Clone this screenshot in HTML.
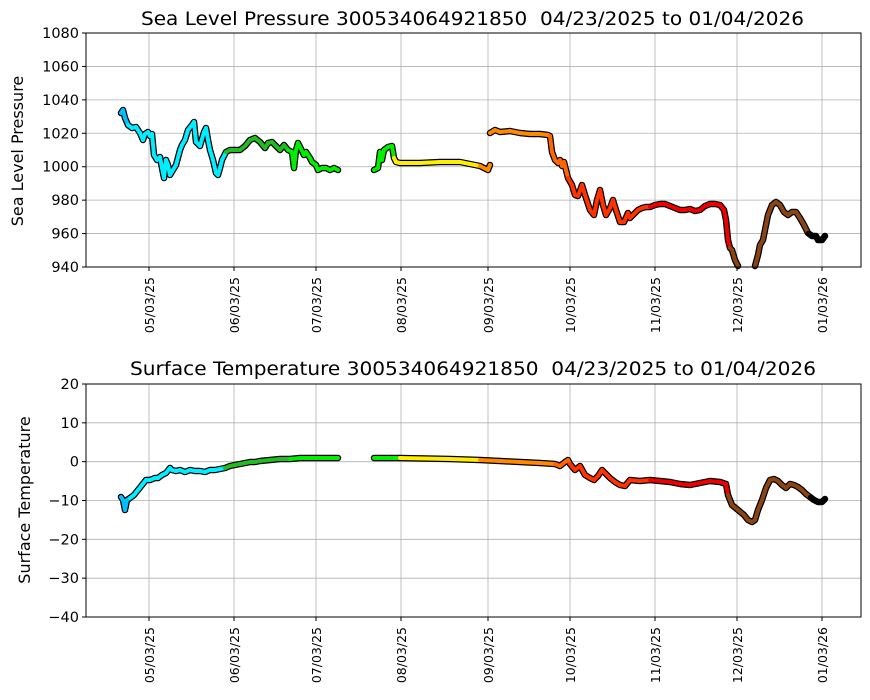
<!DOCTYPE html>
<html><head><meta charset="utf-8"><style>
body{margin:0;background:#fff;}
svg{display:block;font-family:"DejaVu Sans","Liberation Sans",sans-serif;}
</style></head><body>
<svg id="s" width="870" height="700" xmlns="http://www.w3.org/2000/svg">
<rect width="870" height="700" fill="#fff"/>
<g id="grid" stroke="#b0b0b0" stroke-width="0.8"></g>
<g id="data"></g>
<g fill="none" stroke="#000" stroke-width="1">
<rect x="86" y="33" width="775" height="234"/>
<rect x="86" y="384" width="775" height="233"/>
</g>
<g id="ticks" font-size="12"></g>
<text x="141" y="25" font-size="19" textLength="663" lengthAdjust="spacingAndGlyphs" xml:space="preserve">Sea Level Pressure 300534064921850  04/23/2025 to 01/04/2026</text>
<text x="130" y="375" font-size="19" textLength="686" lengthAdjust="spacingAndGlyphs" xml:space="preserve">Surface Temperature 300534064921850  04/23/2025 to 01/04/2026</text>
<text transform="translate(23,151) rotate(-90)" font-size="16" text-anchor="middle">Sea Level Pressure</text>
<text transform="translate(30,500) rotate(-90)" font-size="16" text-anchor="middle">Surface Temperature</text>
</svg>
<script>
const NS="http://www.w3.org/2000/svg";
const g=document.getElementById('grid'),t=document.getElementById('ticks'),d=document.getElementById('data');
function el(p,tag,a,txt){const e=document.createElementNS(NS,tag);for(const k in a)e.setAttribute(k,a[k]);if(txt!==undefined)e.textContent=txt;p.appendChild(e);return e;}
const xs=[149,234,316,401,488,570,655,737,822],xl=["05/03/25","06/03/25","07/03/25","08/03/25","09/03/25","10/03/25","11/03/25","12/03/25","01/03/26"];
[[33,267],[384,617]].forEach(([y0,y1])=>{
 xs.forEach((x,i)=>{el(g,'line',{x1:x,x2:x,y1:y0,y2:y1});el(t,'line',{x1:x,x2:x,y1:y1,y2:y1+4,stroke:'#000'});
  el(t,'text',{transform:`translate(${x+5},${y1+10}) rotate(-90)`,'text-anchor':'end','font-size':'12.5'},xl[i]);});
});
for(let i=0;i<8;i++){const y=33+i*(234/7);el(g,'line',{x1:86,x2:861,y1:y,y2:y});el(t,'line',{x1:82,x2:86,y1:y,y2:y,stroke:'#000'});el(t,'text',{x:79,y:y+5,'text-anchor':'end','font-size':'14.5'},1080-20*i);}
for(let i=0;i<7;i++){const y=384+i*(233/6);el(g,'line',{x1:86,x2:861,y1:y,y2:y});el(t,'line',{x1:82,x2:86,y1:y,y2:y,stroke:'#000'});el(t,'text',{x:79,y:y+5,'text-anchor':'end','font-size':'14.5'},(20-10*i).toString().replace('-','−'));}
function col(x){const c=[[130,'#00bfff'],[225,'#00eeff'],[290,'#22bb22'],[395,'#00ee00'],[482,'#ffee00'],[550,'#ff8800'],[570,'#ff6600'],[650,'#ff3300'],[730,'#ee0000'],[810,'#8b4513'],[999,'#000']];for(const [l,v] of c)if(x<l)return v;}
const P=[
[[121,113],[123,110],[125,118],[128,125],[132,128],[136,127],[140,133],[143,140],[145,134],[148,132],[150,136],[152,134],[154,155],[157,160],[160,157],[162,168],[164,178],[166,160],[168,165],[170,175],[173,170],[176,165],[180,150],[182,145],[185,140],[188,130],[192,125],[194,122],[196,142],[200,146],[204,132],[206,128],[208,140],[210,150],[213,160],[216,173],[218,175],[220,168],[222,160],[226,152],[230,150],[240,150],[245,146],[250,140],[255,138],[260,142],[265,148],[268,143],[272,142],[276,146],[280,150],[284,145],[288,150],[292,152],[294,168],[296,150],[298,143],[300,147],[304,155],[306,152],[310,158],[312,162],[316,165],[318,170],[322,168],[326,168],[330,170],[334,168],[338,170]],
[[374,170],[378,168],[380,152],[382,160],[384,150],[388,147],[392,146],[394,158],[396,162],[400,163],[420,163],[440,162],[460,162],[470,164],[480,166],[488,170],[490,165]],
[[490,133],[495,130],[500,132],[510,131],[520,133],[530,134],[540,134],[548,135],[550,136],[552,152],[555,160],[558,163],[560,160],[562,166],[564,162],[566,170],[568,178],[572,185],[575,195],[578,196],[582,185],[585,195],[590,210],[594,215],[597,200],[600,190],[603,205],[606,215],[610,208],[613,200],[616,210],[620,222],[624,222],[628,213],[630,218],[634,214],[638,210],[642,208],[646,207],[650,207],[655,205],[660,204],[665,204],[670,206],[675,208],[680,210],[685,210],[690,209],[695,211],[700,210],[705,206],[710,204],[715,204],[720,205],[724,210],[726,220],[728,240],[730,248],[732,250],[735,260],[738,266]],
[[755,266],[758,255],[760,245],[763,240],[765,230],[768,215],[772,205],[776,202],[780,205],[784,212],[788,215],[792,212],[796,212],[800,218],[804,225],[808,233],[812,236],[816,236],[818,240],[822,240],[825,236]],
[[121,497],[123,500],[125,510],[127,500],[130,498],[134,495],[138,490],[142,485],[146,480],[150,480],[155,478],[158,478],[162,475],[166,473],[170,468],[172,470],[176,471],[180,470],[185,472],[190,470],[195,471],[200,471],[205,472],[210,470],[215,470],[220,469],[225,468],[230,466],[235,465],[240,464],[245,463],[250,462],[255,462],[260,461],[270,460],[280,459],[290,459],[300,458],[310,458],[320,458],[330,458],[338,458]],
[[374,458],[400,458],[450,459],[480,460],[500,461],[520,462],[540,463],[555,464],[560,466],[565,462],[568,460],[570,464],[575,470],[580,466],[585,475],[590,478],[594,480],[598,476],[602,470],[606,474],[610,478],[615,482],[620,485],[625,486],[630,480],[640,481],[650,480],[660,481],[670,482],[680,484],[690,485],[700,483],[710,481],[720,482],[726,484],[728,495],[732,505],[738,510],[744,515],[748,520],[752,522],[755,520],[758,510],[762,500],[766,488],[770,480],[774,479],[778,481],[782,485],[786,488],[790,484],[794,485],[798,487],[802,490],[806,494],[810,497],[814,500],[818,502],[822,502],[825,499]]];
P.forEach(s=>el(d,'polyline',{points:s.map(p=>p.join(',')).join(' '),fill:'none',stroke:'#000','stroke-width':6.5,'stroke-linejoin':'round','stroke-linecap':'round'}));
P.forEach(s=>{for(let i=0;i<s.length-1;i++){el(d,'line',{x1:s[i][0],y1:s[i][1],x2:s[i+1][0],y2:s[i+1][1],stroke:col((s[i][0]+s[i+1][0])/2),'stroke-width':4,'stroke-linecap':'round'});}});
</script>
</body></html>
